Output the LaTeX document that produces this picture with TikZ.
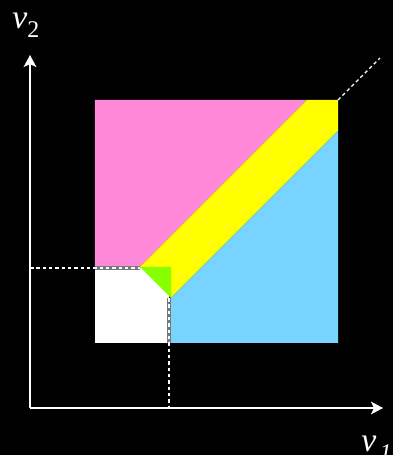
\documentclass[tikz,border=0pt]{standalone}
\usepackage{fontspec}
\setmainfont{Liberation Serif}
\usetikzlibrary{arrows.meta}
\definecolor{regionpink}{HTML}{FF88D8}
\definecolor{regionblue}{HTML}{77D4FF}
\definecolor{bandyellow}{HTML}{FFFF00}
\definecolor{cornergreen}{HTML}{88FF00}
\definecolor{edgegray}{HTML}{787878}

\begin{document}
\begin{tikzpicture}[x=0.025cm, y=0.025cm,
    axis/.style={white, line width=1.4pt, -{Stealth[length=8.5pt, width=9pt, inset=2pt]}},
    guide/.style={white, line width=0.9pt, dash pattern=on 2.5pt off 2pt},
    edge/.style={edgegray, line width=2.8pt},
    axislabel/.style={white, inner sep=0pt, anchor=base west, font=\fontsize{24}{28}\selectfont\itshape}
]
% canvas
\fill[black] (-30,-47) rectangle (363,408);
\useasboundingbox (-30,-47) rectangle (363,408);

\coordinate (O) at (0,0);
\coordinate (xend) at (353,0);
\coordinate (yend) at (0,353);
\coordinate (hl) at (0,140);
\coordinate (vb) at (139,0);
\coordinate (cornerA) at (110,141);
\coordinate (cornerB) at (141,110);
\coordinate (sqtop) at (308,308);
\coordinate (diagend) at (350,350);

% regions
\fill[regionpink] (65,141) -- (65,308) -- (277,308) -- (cornerA) -- cycle;
\fill[bandyellow] (cornerA) -- (277,308) -- (sqtop) -- (308,277) -- (cornerB) -- cycle;
\fill[regionblue] (139,65) -- (308,65) -- (308,277) -- (cornerB) -- cycle;
\fill[white] (65,65) rectangle (139,140);
\fill[cornergreen] (cornerA) -- (141,141) -- (cornerB) -- cycle;

% boundary of the low square
\draw[edge] (65,140) -- (110,140);
\draw[edge] (139,110) -- (139,65);

% guides
\draw[guide] (hl) -- (110,140);
\draw[guide] (139,110) -- (vb);
\draw[guide] (sqtop) -- (diagend);

% axes
\draw[axis] (O) -- (xend);
\draw[axis] (O) -- (yend);

\node[axislabel] (v2label) at (-18,379) {v\raisebox{-0.25em}{\fontsize{17}{20}\selectfont\upshape 2}};
\node[axislabel] (v1label) at (331,-44) {v\hspace{0.1em}\raisebox{-0.25em}{\fontsize{17}{20}\selectfont 1}};
\end{tikzpicture}
\end{document}
